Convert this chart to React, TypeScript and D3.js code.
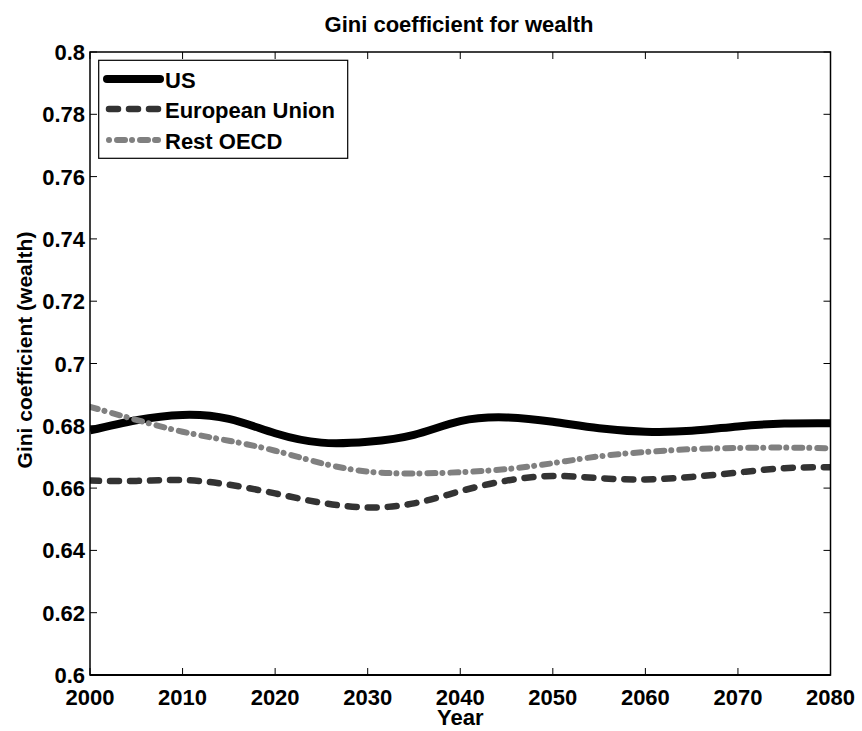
import React from "react";
import * as d3 from "d3";

const years = [2000, 2005, 2010, 2015, 2020, 2025, 2030, 2035, 2040, 2045, 2050, 2055, 2060, 2065, 2070, 2075, 2080];
const usValues = [0.6785, 0.6818, 0.6835, 0.6822, 0.6776, 0.6746, 0.6749, 0.6771, 0.6815, 0.6827, 0.6813, 0.6792, 0.6781, 0.6784, 0.6798, 0.6807, 0.6808];
const euValues = [0.6624, 0.6623, 0.6626, 0.6611, 0.6583, 0.6553, 0.6538, 0.6551, 0.6590, 0.6624, 0.6639, 0.6632, 0.6628, 0.6636, 0.6650, 0.6664, 0.6667];
const oecdValues = [0.6861, 0.6819, 0.6781, 0.6752, 0.6720, 0.6680, 0.6653, 0.6647, 0.6651, 0.6661, 0.6680, 0.6702, 0.6716, 0.6725, 0.6729, 0.6730, 0.6728];
const xTicks = [2000, 2010, 2020, 2030, 2040, 2050, 2060, 2070, 2080];
const yTicks = [0.6, 0.62, 0.64, 0.66, 0.68, 0.7, 0.72, 0.74, 0.76, 0.78, 0.8];
const seriesNames = ["US", "European Union", "Rest OECD"];

const W = 862, H = 731;
const L = 90, R = 830.5, T = 52, B = 675;
const FONT = "'Liberation Sans', Arial, Helvetica, sans-serif";

const styles = [
  { color: "#000000", width: 8, dash: undefined as string | undefined },
  { color: "#333333", width: 6.5, dash: "9 11" },
  { color: "#808080", width: 6, dash: "8 7 0.01 8" },
];

export default function App() {
  const x = d3.scaleLinear().domain([2000, 2080]).range([L, R]);
  const y = d3.scaleLinear().domain([0.6, 0.8]).range([B, T]);
  const line = d3
    .line<[number, number]>()
    .x((d) => x(d[0]))
    .y((d) => y(d[1]))
    .curve(d3.curveNatural);
  const all = [usValues, euValues, oecdValues];
  const legendY = [79, 109, 140];

  return (
    <svg
      width={W}
      height={H}
      style={{ position: "fixed", left: 0, top: 0, background: "#fff" }}
      fontFamily={FONT}
    >
      <rect x={0} y={0} width={W} height={H} fill="#fff" />
      <defs>
        <clipPath id="plotclip">
          <rect x={L} y={T} width={R - L} height={B - T} />
        </clipPath>
      </defs>
      {xTicks.map((t) => (
        <g key={"xt" + t}>
          <line x1={x(t)} x2={x(t)} y1={B} y2={B - 7} stroke="#000" strokeWidth={1} />
          <line x1={x(t)} x2={x(t)} y1={T} y2={T + 7} stroke="#000" strokeWidth={1} />
          <text x={x(t)} y={705} textAnchor="middle" fontSize={22} fontWeight="bold">
            {t}
          </text>
        </g>
      ))}
      {yTicks.map((t) => (
        <g key={"yt" + t}>
          <line x1={L} x2={L + 7} y1={y(t)} y2={y(t)} stroke="#000" strokeWidth={1} />
          <line x1={R} x2={R - 7} y1={y(t)} y2={y(t)} stroke="#000" strokeWidth={1} />
          <text x={L - 5} y={y(t) + 8} textAnchor="end" fontSize={22} fontWeight="bold">
            {String(+t.toFixed(2))}
          </text>
        </g>
      ))}
      <g clipPath="url(#plotclip)">
        {all.map((vals, i) => (
          <path
            key={"s" + i}
            d={line(years.map((yr, j) => [yr, vals[j]] as [number, number])) || ""}
            fill="none"
            stroke={styles[i].color}
            strokeWidth={styles[i].width}
            strokeDasharray={styles[i].dash}
            strokeLinecap={styles[i].dash ? "round" : "butt"}
            strokeLinejoin="round"
          />
        ))}
      </g>
      <rect x={L} y={T} width={R - L} height={B - T} fill="none" stroke="#000" strokeWidth={1.5} />
      <line x1={L} x2={R} y1={B} y2={B} stroke="#000" strokeWidth={2} />
      <rect x={98.7} y={60.3} width={249} height={98} fill="#fff" stroke="#000" strokeWidth={1.2} />
      {seriesNames.map((n, i) => (
        <g key={"lg" + i}>
          <line
            x1={i === 0 ? 107 : 109}
            x2={i === 0 ? 160 : 158}
            y1={legendY[i]}
            y2={legendY[i]}
            stroke={styles[i].color}
            strokeWidth={styles[i].width}
            strokeDasharray={i === 2 ? "0.01 8 8 7 0.01 8 8 7 0.01" : styles[i].dash}
            strokeLinecap="round"
          />
          <text x={165} y={legendY[i] + 9} fontSize={22} fontWeight="bold">
            {n}
          </text>
        </g>
      ))}
      <text x={459} y={32} textAnchor="middle" fontSize={22} fontWeight="bold">
        Gini coefficient for wealth
      </text>
      <text x={(L + R) / 2} y={725} textAnchor="middle" fontSize={22} fontWeight="bold">
        Year
      </text>
      <text
        transform={`translate(31.5, 350) rotate(-90)`}
        textAnchor="middle"
        fontSize={21}
        fontWeight="bold"
      >
        Gini coefficient (wealth)
      </text>
    </svg>
  );
}
